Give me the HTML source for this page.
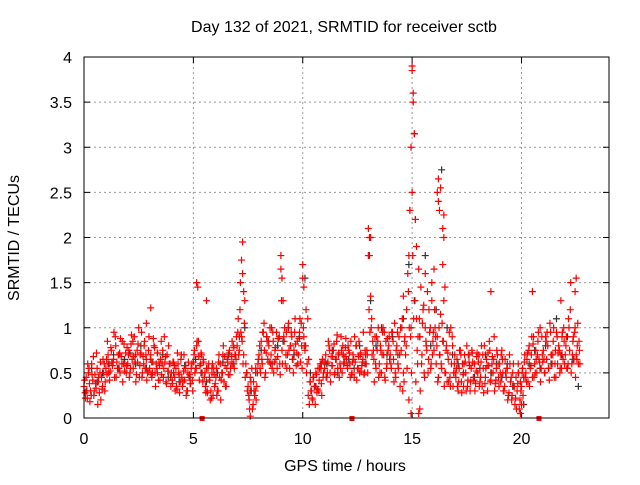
<!DOCTYPE html>
<html><head><meta charset="utf-8"><style>
body{margin:0;background:#fff;}
svg text{font-family:"Liberation Sans",sans-serif;font-size:16px;fill:#000;}
</style></head><body>
<svg id="chart" width="640" height="480" xmlns="http://www.w3.org/2000/svg">
<rect width="640" height="480" fill="#fff"/>
<text x="344" y="32" text-anchor="middle">Day 132 of 2021, SRMTID for receiver sctb</text>
<text x="345" y="471" text-anchor="middle">GPS time / hours</text>
<text transform="translate(19,238) rotate(-90)" text-anchor="middle">SRMTID / TECUs</text>
<g id="grid"></g><g id="ticks"></g><g id="black"></g><g id="red"></g><g id="sq"></g>
<rect x="84" y="57" width="525" height="361" fill="none" stroke="#000" stroke-width="1"/>
</svg>
<script>
const xTicks=[0,5,10,15,20];
const yTicks=[0,0.5,1,1.5,2,2.5,3,3.5,4];
const yTickLabels=["0","0.5","1","1.5","2","2.5","3","3.5","4"];
const mainStep=0.05;
const mainValues=[0.35,0.28,0.45,0.22,0.5,0.38,0.3,0.6,0.42,0.25,0.48,0.33,0.55,0.4,0.28,0.62,0.45,0.35,0.5,0.3,
0.55,0.48,0.7,0.6,0.52,0.75,0.58,0.65,0.45,0.8,0.62,0.55,0.7,0.5,0.68,0.85,0.6,0.52,0.72,0.58,
0.6,0.75,0.5,0.82,0.65,0.55,0.9,0.7,0.48,0.62,1.0,0.58,0.72,0.45,0.68,0.8,0.55,0.65,0.5,0.75,
0.55,0.7,0.45,0.62,0.8,0.5,0.6,0.72,0.42,0.58,0.65,0.48,0.75,0.55,0.62,0.4,0.7,0.52,0.6,0.45,
0.5,0.38,0.62,0.45,0.55,0.32,0.6,0.48,0.4,0.7,0.35,0.52,0.42,0.58,0.3,0.5,0.45,0.38,0.55,0.42,
0.62,0.75,0.55,0.8,1.45,0.68,0.58,0.72,0.5,0.65,0.45,0.35,0.55,0.28,0.6,0.42,0.3,0.5,0.25,0.48,
0.38,0.55,0.3,0.62,0.45,0.2,0.5,0.7,0.4,0.58,0.35,0.65,0.48,0.75,0.55,0.68,0.6,0.78,0.7,0.65,
0.8,1.1,0.75,1.5,0.9,1.95,0.7,1.3,0.6,0.5,0.35,0.2,0.45,0.3,0.1,0.4,0.25,0.55,0.35,0.6,
0.7,0.55,0.85,0.6,0.95,0.75,0.5,0.9,0.65,0.8,1.0,0.7,0.55,0.85,0.62,0.78,0.95,0.68,0.88,0.6,
1.8,0.75,1.3,0.85,0.6,0.95,0.7,1.05,0.55,0.8,0.9,0.65,0.75,1.1,0.58,0.85,0.7,0.95,0.62,0.8,
1.7,0.9,0.75,1.2,0.6,0.25,0.15,0.4,0.3,0.2,0.45,0.35,0.5,0.28,0.55,0.42,0.6,0.38,0.65,0.5,
0.55,0.7,0.45,0.62,0.8,0.5,0.68,0.58,0.75,0.48,0.65,0.85,0.55,0.72,0.6,0.9,0.5,0.7,0.62,0.78,
0.65,0.55,0.75,0.6,0.85,0.5,0.7,0.45,0.62,0.8,0.55,0.68,0.5,0.72,0.58,0.65,0.48,0.75,0.6,0.7,
1.8,2.0,1.35,1.1,0.85,0.65,0.9,0.55,0.75,1.0,0.6,0.8,0.5,0.95,0.7,0.45,0.85,0.6,0.75,0.9,
0.7,0.55,0.95,0.65,1.05,0.45,0.8,0.6,0.9,0.35,0.75,1.1,0.5,0.85,0.7,1.2,1.6,0.2,2.3,1.0,
3.9,3.5,3.15,2.2,1.1,0.6,1.65,0.9,1.45,0.7,1.2,0.5,1.0,0.8,1.4,0.65,0.95,0.55,1.3,0.85,
0.75,1.0,0.6,0.9,0.45,0.7,1.15,0.55,0.85,1.3,0.5,0.75,0.4,0.65,0.95,0.35,0.6,0.8,0.5,0.7,
0.45,0.65,0.3,0.55,0.75,0.4,0.6,0.35,0.7,0.5,0.8,0.42,0.62,0.3,0.55,0.72,0.45,0.6,0.38,0.68,
0.5,0.7,0.4,0.62,0.35,0.55,0.8,0.45,0.65,0.3,0.58,0.75,0.42,0.6,0.5,0.9,0.38,0.55,0.7,0.45,
0.6,0.4,0.75,0.5,0.3,0.65,0.45,0.55,0.25,0.7,0.4,0.2,0.5,0.35,0.15,0.45,0.3,0.6,0.1,0.4,
0.35,0.55,0.45,0.7,0.5,0.65,0.4,0.8,0.55,0.7,0.45,0.9,0.6,0.75,0.5,0.85,0.65,1.0,0.55,0.7,
0.75,0.5,0.9,0.65,0.8,0.55,1.05,0.7,0.6,0.85,0.45,0.75,0.95,0.6,0.8,0.5,0.7,0.9,0.65,0.85,
0.7,0.9,0.55,1.1,0.75,1.5,0.6,0.85,0.65,1.0,0.7,0.8,0.6,0.75];
const secondStep=0.1;
const secondValues=[0.42,0.3,0.55,0.25,0.68,0.38,0.15,0.5,0.32,0.6,
0.65,0.5,0.78,0.62,0.9,0.55,0.72,0.6,0.82,0.5,
0.7,0.55,0.85,0.62,0.75,0.45,0.95,0.6,0.7,0.52,
0.65,0.5,0.78,0.55,0.62,0.85,0.45,0.68,0.52,0.6,
0.42,0.58,0.35,0.5,0.65,0.4,0.55,0.3,0.48,0.6,
0.7,0.55,0.85,0.6,0.4,0.5,0.3,0.45,0.22,0.55,
0.45,0.3,0.6,0.5,0.68,0.55,0.72,0.6,0.8,0.7,
0.95,1.2,0.85,1.05,0.5,0.25,0.4,0.15,0.3,0.5,
0.8,0.65,1.05,0.72,0.85,0.6,0.95,0.75,0.55,0.9,
1.3,0.9,0.7,1.0,0.8,0.65,0.95,0.72,0.88,1.05,
1.0,0.8,1.1,0.4,0.22,0.35,0.48,0.3,0.55,0.45,
0.62,0.5,0.75,0.58,0.82,0.65,0.7,0.55,0.8,0.68,
0.58,0.72,0.48,0.65,0.8,0.55,0.7,0.62,0.5,0.75,
1.2,1.0,0.75,0.6,0.85,0.5,0.7,0.95,0.55,0.8,
0.6,0.85,0.5,0.95,0.7,1.0,0.4,0.8,1.4,0.9,
1.8,1.3,0.75,1.1,0.6,1.25,0.85,0.5,1.0,0.7,
1.2,0.8,1.0,0.6,0.85,0.5,0.72,0.45,0.9,0.6,
0.55,0.4,0.7,0.48,0.62,0.35,0.58,0.75,0.42,0.52,
0.62,0.45,0.7,0.38,0.58,0.85,0.5,0.65,0.42,0.6,
0.5,0.65,0.35,0.55,0.28,0.45,0.6,0.22,0.38,0.2,
0.5,0.62,0.4,0.75,0.58,0.82,0.5,0.7,0.62,0.9,
0.65,0.85,0.55,0.95,0.7,0.6,0.9,0.75,0.55,1.0,
0.8,0.6,1.2,0.7,0.95,0.65,0.85];
const thirdStep=0.1;
const thirdValues=[0.22,0.6,0.18,0.48,0.3,0.72,0.45,0.2,0.65,0.4,
0.85,0.42,0.62,0.95,0.45,0.7,0.88,0.4,0.6,0.78,
0.45,0.92,0.68,0.4,0.82,0.7,0.5,0.85,0.42,0.9,
0.48,0.88,0.35,0.72,0.42,0.6,0.9,0.38,0.8,0.35,
0.62,0.3,0.72,0.28,0.45,0.7,0.25,0.62,0.38,0.3,
0.5,0.85,0.42,0.7,0.62,0.28,0.55,0.2,0.6,0.35,
0.25,0.7,0.42,0.8,0.35,0.62,0.48,0.85,0.55,0.9,
0.7,0.95,0.6,0.45,0.3,0.1,0.55,0.3,0.2,0.65,
0.5,0.95,0.45,0.85,0.62,1.0,0.5,0.65,0.88,0.48,
0.6,1.0,0.55,0.75,0.95,0.5,0.82,0.6,1.1,0.55,
0.8,0.5,0.65,0.3,0.45,0.15,0.32,0.55,0.25,0.62,
0.45,0.85,0.4,0.68,0.5,0.92,0.45,0.75,0.6,0.88,
0.8,0.45,0.62,0.9,0.42,0.85,0.52,0.95,0.7,0.5,
0.95,0.7,0.4,0.9,0.45,0.75,1.0,0.42,0.88,0.65,
0.95,0.4,0.75,0.55,1.0,0.3,0.9,0.55,1.0,0.5,
1.1,0.4,0.9,0.3,1.05,0.45,0.75,1.2,0.6,0.95,
0.9,0.4,0.7,1.05,0.35,0.8,0.4,1.0,0.35,0.5,
0.35,0.75,0.28,0.6,0.3,0.7,0.4,0.62,0.3,0.72,
0.35,0.8,0.28,0.55,0.72,0.4,0.68,0.3,0.75,0.35,
0.7,0.3,0.5,0.2,0.6,0.25,0.35,0.1,0.5,0.3,
0.25,0.45,0.72,0.35,0.9,0.45,0.65,0.95,0.4,0.62,
0.5,0.95,0.42,0.7,1.0,0.45,0.72,0.55,0.95,0.6,
0.55,1.0,0.5,0.9,0.45,1.05,0.6];
const spikeTimes=[15.0,15.05,14.95,15.1,14.9,15.15,15.0,14.85,15.2,16.2,16.15,16.2,16.25,16.4,16.45,16.4,16.5,16.45,13.0,13.05,13.1,7.2,7.25,7.3,9.0,9.05,10.0,10.05,5.15,5.6,22.5,22.45,21.8,20.5,3.05,2.85,18.6,14.6,15.6,15.9,15.3,15.35,14.95,7.6,19.95,20.0,16.0,16.3];
const spikeValues=[3.85,3.6,3.0,3.15,2.3,2.2,2.5,1.8,1.9,2.65,2.5,2.4,2.3,2.1,2.0,1.7,1.45,2.25,2.1,1.8,2.0,1.75,1.6,1.4,1.65,1.55,1.55,1.45,1.5,1.3,1.55,1.4,1.3,1.4,1.22,1.05,1.4,1.35,1.6,1.5,0.05,0.1,0.05,0.02,0.05,0.15,1.65,2.55];
const blackStep=0.25;
const blackValues=[0.3,0.55,0.4,0.5,0.6,0.7,0.55,0.65,0.72,0.6,0.8,0.55,0.62,0.5,0.7,0.45,0.5,0.4,0.58,0.45,
0.65,0.5,0.4,0.55,0.5,0.62,0.7,0.6,0.9,1.0,0.3,0.5,0.75,0.9,0.6,0.8,0.85,1.0,0.7,0.9,
1.55,0.5,0.35,0.6,0.6,0.75,0.5,0.7,0.65,0.55,0.8,0.6,1.3,0.8,1.0,0.7,0.9,0.7,1.1,1.7,
1.3,0.9,1.8,0.8,1.2,2.75,1.0,0.7,0.6,0.5,0.7,0.45,0.55,0.7,0.5,0.6,0.45,0.6,0.35,0.5,
0.15,0.6,0.75,0.55,0.8,0.6,1.1,0.7,0.9,0.65,0.35];
const squareTimes=[5.4,12.25,20.8];

const X0=84,X1=609,Y0=418,Y1=57,XMAX=24,YMAX=4;
const xs=t=>X0+(X1-X0)*t/XMAX;
const ys=v=>Y0-(Y0-Y1)*v/YMAX;
const NS="http://www.w3.org/2000/svg";
function mk(tag,parent,attrs){const e=document.createElementNS(NS,tag);for(const k in attrs)e.setAttribute(k,attrs[k]);parent.appendChild(e);return e;}
const grid=document.getElementById('grid'),ticks=document.getElementById('ticks');
xTicks.forEach(t=>{const x=xs(t);
 const g=mk('line',grid,{x1:x,x2:x,y1:Y1,y2:Y0,stroke:'#999','stroke-dasharray':'2,3'});
 
 
 mk('line',ticks,{x1:x,x2:x,y1:Y0,y2:Y0-6,stroke:'#000'});
 mk('line',ticks,{x1:x,x2:x,y1:Y1,y2:Y1+6,stroke:'#000'});
 const l=mk('text',ticks,{x:x,y:444,'text-anchor':'middle'});l.textContent=String(t);
 
 
});
yTicks.forEach((v,i)=>{const y=ys(v);
 const g=mk('line',grid,{x1:X0,x2:X1,y1:y,y2:y,stroke:'#999','stroke-dasharray':'2,3'});
 
 
 mk('line',ticks,{x1:X0,x2:X0+6,y1:y,y2:y,stroke:'#000'});
 mk('line',ticks,{x1:X1,x2:X1-6,y1:y,y2:y,stroke:'#000'});
 const l=mk('text',ticks,{x:72,y:y+6,'text-anchor':'end'});l.textContent=yTickLabels[i];
 
 
});
function plus(g,t,v,color,name){const x=xs(t),y=ys(v);
 const p=mk('path',g,{d:`M${x-3.5},${y}h7M${x},${y-3.5}v7`,stroke:color,'stroke-width':1.2,fill:'none'});
 
 
}
const black=document.getElementById('black'),red=document.getElementById('red');
blackValues.forEach((v,i)=>plus(black,i*blackStep+0.1,v,'#333','black-point'));
thirdValues.forEach((v,i)=>plus(red,i*thirdStep+0.07,v,'#f00','red-point'));
secondValues.forEach((v,i)=>plus(red,i*secondStep+0.03,v,'#f00','red-point'));
mainValues.forEach((v,i)=>plus(red,i*mainStep,v,'#f00','red-point'));
spikeTimes.forEach((t,i)=>plus(red,t,spikeValues[i],'#f00','red-spike-point'));
const sq=document.getElementById('sq');
squareTimes.forEach(t=>{const r=mk('rect',sq,{x:xs(t)-2.5,y:Y0-2,width:5,height:5,fill:'#f00'});
 
 
});
</script>
</body></html>
